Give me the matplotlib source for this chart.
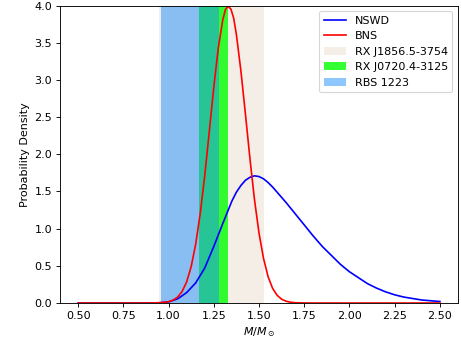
import matplotlib
matplotlib.use("Agg")
import matplotlib.pyplot as plt


# NSWD mass distribution
nswd_mass = [0.50, 0.60, 0.70, 0.80, 0.90, 0.95, 1.00, 1.05, 1.10, 1.15,
             1.20, 1.25, 1.30, 1.35, 1.375, 1.40, 1.425, 1.45, 1.475, 1.50,
             1.525, 1.55, 1.575, 1.60, 1.65, 1.70, 1.75, 1.80, 1.85, 1.90,
             1.95, 2.00, 2.05, 2.10, 2.15, 2.20, 2.25, 2.30, 2.35, 2.40,
             2.45, 2.50]
nswd_pdf = [0.0, 0.0, 0.0, 0.0, 0.0, 0.003, 0.015, 0.055, 0.14, 0.27,
            0.47, 0.76, 1.07, 1.37, 1.49, 1.58, 1.65, 1.69, 1.71, 1.70,
            1.67, 1.62, 1.56, 1.49, 1.35, 1.20, 1.05, 0.90, 0.76, 0.64,
            0.52, 0.42, 0.34, 0.26, 0.20, 0.15, 0.11, 0.08, 0.06, 0.04,
            0.03, 0.02]

# BNS mass distribution
bns_mass = [0.50, 0.70, 0.90, 0.95, 1.00, 1.025, 1.05, 1.075, 1.10, 1.125,
            1.15, 1.175, 1.20, 1.225, 1.25, 1.275, 1.30, 1.315, 1.33, 1.345,
            1.36, 1.375, 1.40, 1.425, 1.45, 1.475, 1.50, 1.525, 1.55, 1.575,
            1.60, 1.625, 1.65, 1.675, 1.70, 1.75, 1.80, 2.00, 2.50]
bns_pdf = [0.0, 0.0, 0.0, 0.004, 0.017, 0.038, 0.079, 0.154, 0.283, 0.488,
           0.79, 1.20, 1.71, 2.30, 2.90, 3.43, 3.81, 3.95, 3.99, 3.95,
           3.83, 3.61, 3.12, 2.54, 1.94, 1.39, 0.94, 0.60, 0.355, 0.198,
           0.104, 0.051, 0.024, 0.010, 0.004, 0.0006, 0.0, 0.0, 0.0]

# isolated neutron star mass ranges
band_names = ["RX J1856.5-3754", "RX J0720.4-3125", "RBS 1223"]
band_lo = [0.95, 1.17, 0.96]
band_hi = [1.53, 1.33, 1.28]
band_colors = ["#f5eee6", "lime", "dodgerblue"]
band_alpha = [1.0, 0.8, 0.5]


def main():
    fig = plt.figure(figsize=(461 / 80, 339 / 80), dpi=80)
    ax = fig.add_axes([60 / 461, 36 / 339, 398 / 461, 297.5 / 339])

    ax.plot(nswd_mass, nswd_pdf, color="blue", label="NSWD")
    ax.plot(bns_mass, bns_pdf, color="red", label="BNS")

    for name, lo, hi, c, a in zip(band_names, band_lo, band_hi, band_colors, band_alpha):
        ax.axvspan(lo, hi, color=c, alpha=a, linewidth=0, label=name)

    ax.set_xlim(0.4, 2.6)
    ax.set_ylim(0, 4.0)
    ax.set_xticks([0.5, 0.75, 1.0, 1.25, 1.5, 1.75, 2.0, 2.25, 2.5])
    ax.set_xticklabels(["0.50", "0.75", "1.00", "1.25", "1.50", "1.75",
                        "2.00", "2.25", "2.50"])
    ax.set_xlabel(r"$M/M_\odot$")
    ax.set_ylabel("Probability Density")
    ax.legend(loc="upper right")

    fig.savefig("out.png", dpi=80)
    plt.close(fig)


if __name__ == "__main__":
    main()
